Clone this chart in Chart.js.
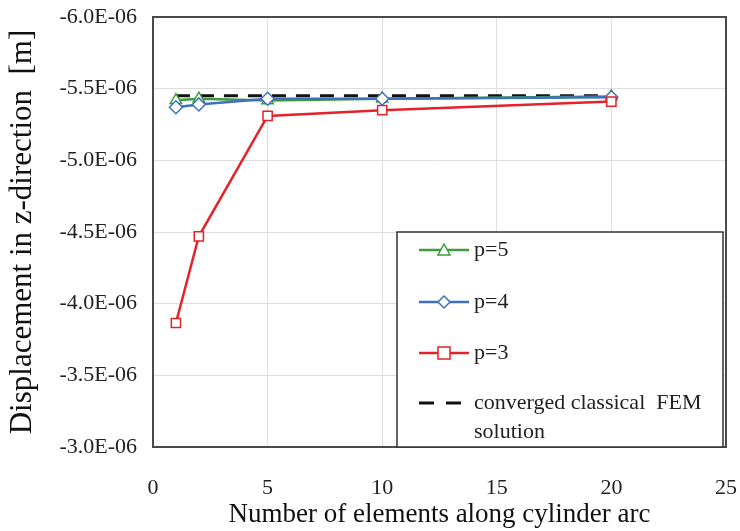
<!DOCTYPE html>
<html>
<head>
<meta charset="utf-8">
<script src="https://cdn.jsdelivr.net/npm/chart.js@4"></script>
<style>
  html, body { margin: 0; padding: 0; background: #ffffff; }
  #wrap { width: 740px; height: 531px; }
</style>
</head>
<body>
<div id="wrap"><canvas id="convChart"></canvas></div>
<script>
// elements along the arc
const elementCounts = [1, 2, 5, 10, 20];
// displacement in z-direction [m]
const p5Values = [-5.42e-6, -5.43e-6, -5.418e-6, -5.43e-6, -5.445e-6];
const p4Values = [-5.37e-6, -5.39e-6, -5.43e-6, -5.43e-6, -5.44e-6];
const p3Values = [-3.865e-6, -4.47e-6, -5.31e-6, -5.35e-6, -5.41e-6];
const femValue = -5.45e-6;
const femRange = [1, 20];

const legendLabels = ['p=5', 'p=4', 'p=3', 'converged classical  FEM', 'solution'];
const xTitle = 'Number of elements along cylinder arc';
const yTitle = 'Displacement in z-direction  [m]';

const serif = '"Liberation Serif", "Times New Roman", serif';
const green = '#3d9a3d';
const blue = '#3f6fc2';
const red = '#e3222a';

function toPoints(xs, ys) {
    return xs.map((x, i) => ({ x: x, y: ys[i] }));
}

function formatSci(v) {
    // -6.0E-06 style
    return v.toExponential(1).toUpperCase().replace(/E([+-])(\d)$/, 'E$10$2');
}

function drawMarker(ctx, style, x, y, color) {
    ctx.save();
    ctx.strokeStyle = color;
    ctx.fillStyle = '#ffffff';
    ctx.lineWidth = 1.5;
    ctx.beginPath();
    if (style === 'triangle') {
        ctx.moveTo(x, y - 6);
        ctx.lineTo(x + 6, y + 5);
        ctx.lineTo(x - 6, y + 5);
        ctx.closePath();
    } else if (style === 'rectRot') {
        ctx.moveTo(x, y - 6);
        ctx.lineTo(x + 6, y);
        ctx.lineTo(x, y + 6);
        ctx.lineTo(x - 6, y);
        ctx.closePath();
    } else {
        ctx.rect(x - 6, y - 6, 12, 12);
    }
    ctx.fill();
    ctx.stroke();
    ctx.restore();
}

// frame round the plot area
const framePlugin = {
    id: 'frame',
    afterDatasetsDraw(chart) {
        const { ctx, chartArea: a } = chart;
        ctx.save();
        ctx.strokeStyle = '#4a4a4a';
        ctx.lineWidth = 2;
        ctx.strokeRect(a.left, a.top, a.right - a.left, a.bottom - a.top);
        ctx.restore();
    }
};

// boxed legend in the lower right corner
const boxLegendPlugin = {
    id: 'boxLegend',
    afterDatasetsDraw(chart) {
        const { ctx, chartArea: a } = chart;
        const w = 326, h = 215;
        const left = a.right - 3 - w;
        const top = a.bottom - h;
        ctx.save();
        ctx.fillStyle = '#ffffff';
        ctx.fillRect(left, top, w, h);
        ctx.strokeStyle = '#333333';
        ctx.lineWidth = 1.5;
        ctx.strokeRect(left, top, w, h);

        const lineX0 = left + 22, lineX1 = left + 72, midX = left + 47;
        const textX = left + 77;
        const rows = [
            { y: top + 18, color: green, marker: 'triangle' },
            { y: top + 70, color: blue, marker: 'rectRot' },
            { y: top + 121, color: red, marker: 'rect' }
        ];
        ctx.font = '22px ' + serif;
        ctx.textBaseline = 'middle';
        rows.forEach((r, i) => {
            ctx.strokeStyle = r.color;
            ctx.lineWidth = 2.5;
            ctx.beginPath();
            ctx.moveTo(lineX0, r.y);
            ctx.lineTo(lineX1, r.y);
            ctx.stroke();
            drawMarker(ctx, r.marker, midX, r.y, r.color);
            ctx.fillStyle = '#222222';
            ctx.fillText(legendLabels[i], textX, r.y);
        });
        const fy = top + 171;
        ctx.strokeStyle = '#111111';
        ctx.lineWidth = 3;
        ctx.setLineDash([15, 12]);
        ctx.beginPath();
        ctx.moveTo(lineX0, fy);
        ctx.lineTo(lineX0 + 42, fy);
        ctx.stroke();
        ctx.setLineDash([]);
        ctx.fillStyle = '#222222';
        ctx.fillText(legendLabels[3], textX, fy);
        ctx.fillText(legendLabels[4], textX, fy + 29);
        ctx.restore();
    }
};

const ctxChart = document.getElementById('convChart');

new Chart(ctxChart, {
    type: 'line',
    data: {
        datasets: [
            {
                label: 'p=3',
                data: toPoints(elementCounts, p3Values),
                borderColor: red,
                backgroundColor: '#ffffff',
                borderWidth: 2.5,
                pointStyle: 'rect',
                pointRadius: 6.5,
                pointBorderWidth: 1.5,
                pointBorderColor: red,
                tension: 0
            },
            {
                label: 'p=4',
                data: toPoints(elementCounts, p4Values),
                borderColor: blue,
                backgroundColor: '#ffffff',
                borderWidth: 2.5,
                pointStyle: 'rectRot',
                pointRadius: 6.5,
                pointBorderWidth: 1.5,
                pointBorderColor: blue,
                tension: 0
            },
            {
                label: 'p=5',
                data: toPoints(elementCounts, p5Values),
                borderColor: green,
                backgroundColor: '#ffffff',
                borderWidth: 2.5,
                pointStyle: 'triangle',
                pointRadius: 6.5,
                pointBorderWidth: 1.5,
                pointBorderColor: green,
                tension: 0
            },
            {
                label: 'converged classical FEM solution',
                data: toPoints(femRange, [femValue, femValue]),
                borderColor: '#111111',
                borderWidth: 3,
                borderDash: [14, 10],
                pointRadius: 0,
                tension: 0
            }
        ]
    },
    options: {
        responsive: true,
        maintainAspectRatio: false,
        animation: false,
        layout: { padding: { top: 17, right: 14, left: 0, bottom: 0 } },
        plugins: {
            legend: { display: false },
            tooltip: { enabled: false }
        },
        scales: {
            x: {
                type: 'linear',
                min: 0,
                max: 25,
                ticks: {
                    stepSize: 5,
                    padding: 28,
                    color: '#222222',
                    font: { family: serif, size: 22 }
                },
                grid: { color: '#dedede', lineWidth: 1, drawTicks: false },
                border: { display: false },
                title: {
                    display: true,
                    text: xTitle,
                    color: '#111111',
                    font: { family: serif, size: 27 },
                    padding: { top: 0, bottom: 0 }
                },
                afterFit(scale) {
                    scale.height = 84;
                    scale.paddingLeft = 0;
                    scale.paddingRight = 0;
                }
            },
            y: {
                type: 'linear',
                reverse: true,
                min: -6e-6,
                max: -3e-6,
                ticks: {
                    stepSize: 0.5e-6,
                    padding: 16,
                    color: '#222222',
                    font: { family: serif, size: 22 },
                    callback: (v) => formatSci(v)
                },
                grid: { color: '#dedede', lineWidth: 1, drawTicks: false },
                border: { display: false },
                title: {
                    display: true,
                    text: yTitle,
                    color: '#111111',
                    font: { family: serif, size: 31 },
                    padding: { top: 4, bottom: 4 }
                },
                afterFit(scale) {
                    scale.width = 153;
                    scale.paddingTop = 0;
                    scale.paddingBottom = 0;
                }
            }
        }
    },
    plugins: [framePlugin, boxLegendPlugin]
});
</script>
</body>
</html>
